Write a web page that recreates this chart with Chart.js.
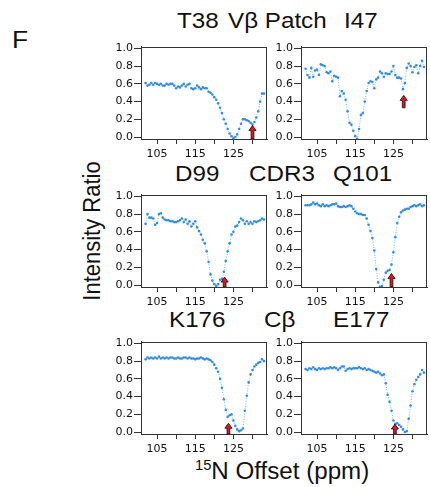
<!DOCTYPE html>
<html>
<head>
<meta charset="utf-8">
<script src="https://cdn.jsdelivr.net/npm/chart.js@4"></script>
<style>
body { margin: 0; background: #fff; }
#fig { position: relative; width: 430px; height: 487px; overflow: hidden; font-family: "Liberation Sans", Arial, sans-serif; color: #111; }
.lbl { position: absolute; font-size: 22px; line-height: 22px; white-space: nowrap; transform-origin: 0 0; transform: scaleX(1.1); }
.ytitle { position: absolute; left: 92px; top: 231px; font-size: 22px; line-height: 22px; white-space: nowrap; transform: translate(-50%, -50%) rotate(-90deg) scale(1, 1.1); }
canvas { position: absolute; }
</style>
</head>
<body>
<div id="fig">
  <div class="lbl" style="left:12px;top:29px;font-size:24px">F</div>

  <div class="lbl" style="left:177px;top:10px">T38</div>
  <div class="lbl" style="left:228px;top:10px">Vβ Patch</div>
  <div class="lbl" style="left:344px;top:10px">I47</div>

  <div class="lbl" style="left:175px;top:163px">D99</div>
  <div class="lbl" style="left:249px;top:163px">CDR3</div>
  <div class="lbl" style="left:333px;top:163px">Q101</div>

  <div class="lbl" style="left:169px;top:309px">K176</div>
  <div class="lbl" style="left:264px;top:309px">Cβ</div>
  <div class="lbl" style="left:333px;top:309px">E177</div>

  <div class="ytitle">Intensity Ratio</div>
  <div class="lbl" style="left:195px;top:460px;font-size:23px;transform:scaleX(1.05)"><span style="font-size:14px;position:relative;top:-9px">15</span>N Offset (ppm)</div>

  <canvas id="c1" width="168" height="124"></canvas>
  <canvas id="c2" width="168" height="124"></canvas>
  <canvas id="c3" width="168" height="124"></canvas>
  <canvas id="c4" width="168" height="124"></canvas>
  <canvas id="c5" width="168" height="124"></canvas>
  <canvas id="c6" width="168" height="124"></canvas>
</div>

<script>
// 15N offsets (ppm) of the CEST profiles
const offsets = [
  102, 102.5, 103, 103.5, 104, 104.5, 105, 105.5, 106, 106.5,
  107, 107.5, 108, 108.5, 109, 109.5, 110, 110.5, 111, 111.5,
  112, 112.5, 113, 113.5, 114, 114.5, 115, 115.5, 116, 116.5,
  117, 117.5, 118, 118.5, 119, 119.5, 120, 120.5, 121, 121.5,
  122, 122.5, 123, 123.5, 124, 124.5, 125, 125.5, 126, 126.5,
  127, 127.5, 128, 128.5, 129, 129.5, 130, 130.5, 131, 131.5,
  132, 132.5, 133
];

// intensity ratios
const t38 = [
  0.61, 0.58, 0.59, 0.61, 0.59, 0.61, 0.60, 0.59, 0.60, 0.58,
  0.58, 0.60, 0.59, 0.60, 0.60, 0.58, 0.55, 0.57, 0.56, 0.58,
  0.60, 0.57, 0.59, 0.60, 0.55, 0.54, 0.55, 0.58, 0.56, 0.54,
  0.56, 0.55, 0.55, 0.51, 0.50, 0.48, 0.45, 0.42, 0.38, 0.33,
  0.27, 0.20, 0.15, 0.09, 0.04, 0.01, -0.01, 0.00, 0.03, 0.09,
  0.15, 0.20, 0.20, 0.19, 0.18, 0.16, 0.14, 0.17, 0.22, 0.29,
  0.40, 0.49, 0.49
];
const i47 = [
  0.77, 0.70, 0.67, 0.78, 0.68, 0.75, 0.76, 0.70, 0.82, 0.81,
  0.80, 0.73, 0.72, 0.74, 0.63, 0.69, 0.68, 0.67, 0.46, 0.52,
  0.49, 0.42, 0.29, 0.16, 0.14, 0.07, 0.01, -0.02, 0.09, 0.25,
  0.27, 0.40, 0.52, 0.61, 0.63, 0.62, 0.55, 0.65, 0.67, 0.74,
  0.72, 0.68, 0.72, 0.71, 0.71, 0.74, 0.80, 0.70, 0.67, 0.67,
  0.66, 0.54, 0.61, 0.78, 0.83, 0.80, 0.73, 0.79, 0.81, 0.72,
  0.80, 0.86, 0.79
];
const d99 = [
  0.69, 0.80, 0.76, 0.76, 0.75, 0.68, 0.70, 0.80, 0.81, 0.76,
  0.74, 0.73, 0.73, 0.72, 0.72, 0.71, 0.71, 0.72, 0.73, 0.75,
  0.71, 0.74, 0.69, 0.72, 0.66, 0.69, 0.72, 0.65, 0.61, 0.57,
  0.51, 0.47, 0.38, 0.26, 0.12, 0.05, 0.01, -0.01, 0.01, 0.06,
  0.07, 0.15, 0.27, 0.38, 0.47, 0.57, 0.60, 0.66, 0.67, 0.71,
  0.75, 0.73, 0.69, 0.72, 0.69, 0.71, 0.69, 0.72, 0.71, 0.72,
  0.73, 0.75, 0.74
];
const q101 = [
  0.90, 0.90, 0.90, 0.91, 0.93, 0.91, 0.92, 0.90, 0.89, 0.91,
  0.89, 0.90, 0.89, 0.90, 0.91, 0.91, 0.92, 0.89, 0.88, 0.88,
  0.89, 0.88, 0.89, 0.90, 0.89, 0.86, 0.83, 0.81, 0.80, 0.80,
  0.79, 0.79, 0.75, 0.68, 0.61, 0.53, 0.39, 0.18, 0.03, -0.02,
  -0.01, 0.06, 0.14, 0.16, 0.17, 0.23, 0.37, 0.54, 0.70, 0.77,
  0.82, 0.84, 0.85, 0.86, 0.86, 0.88, 0.89, 0.90, 0.89, 0.90,
  0.91, 0.89, 0.90
];
const k176 = [
  0.82, 0.84, 0.83, 0.84, 0.83, 0.84, 0.83, 0.85, 0.83, 0.84,
  0.83, 0.84, 0.83, 0.84, 0.84, 0.83, 0.83, 0.84, 0.83, 0.83,
  0.84, 0.84, 0.83, 0.84, 0.83, 0.83, 0.82, 0.83, 0.83, 0.84,
  0.83, 0.82, 0.83, 0.82, 0.81, 0.79, 0.76, 0.72, 0.68, 0.60,
  0.50, 0.37, 0.25, 0.17, 0.19, 0.20, 0.13, 0.07, 0.03, 0.01,
  0.02, 0.04, 0.24, 0.41, 0.56, 0.65, 0.70, 0.74, 0.76, 0.78,
  0.79, 0.82, 0.80
];
const e177 = [
  0.71, 0.70, 0.72, 0.71, 0.73, 0.71, 0.70, 0.72, 0.71, 0.72,
  0.71, 0.72, 0.72, 0.73, 0.72, 0.73, 0.72, 0.70, 0.72, 0.74,
  0.74, 0.69, 0.71, 0.72, 0.71, 0.72, 0.72, 0.72, 0.73, 0.72,
  0.71, 0.72, 0.70, 0.71, 0.70, 0.69, 0.68, 0.67, 0.68, 0.66,
  0.64, 0.65, 0.55, 0.42, 0.34, 0.24, 0.13, 0.09, 0.10, 0.08,
  0.06, 0.03, 0.00, 0.01, 0.15, 0.30, 0.46, 0.54, 0.59, 0.62,
  0.65, 0.70, 0.67
];

// red arrows: offset, tip and base (intensity ratio)
const arrowAt   = [130, 127.7, 122.7, 124.5, 123.7, 125.4];
const arrowTip  = [0.13, 0.47, 0.09, 0.13, 0.10, 0.09];
const arrowBase = [-0.03, 0.33, -0.03, -0.03, -0.03, -0.03];

const xTicks = [105, 110, 115, 120, 125, 130];
const xLabels = [105, 115, 125];
const yTicks = [0, 0.2, 0.4, 0.6, 0.8, 1.0];

const series = [t38, i47, d99, q101, k176, e177];

// layout of the plot boxes
const colLeft = [141, 301];
const rowTop = [42, 190, 337];
const yAxisW = 38, xAxisH = 24, padTop = 3, padRight = 3;

const blue = '#2b8ef5';
const axisColor = '#333';

// frame round the plot area
const boxPlugin = {
  id: 'box',
  afterDraw(chart) {
    const a = chart.chartArea, ctx = chart.ctx;
    ctx.save();
    ctx.strokeStyle = axisColor;
    ctx.lineWidth = 1;
    ctx.strokeRect(Math.round(a.left) + 0.5, Math.round(a.top) + 0.5,
                   Math.round(a.right - a.left) - 1, Math.round(a.bottom - a.top));
    ctx.restore();
  }
};

// the red up arrow marking a residue position
const arrowPlugin = {
  id: 'arrow',
  afterDatasetsDraw(chart, args, opts) {
    const ctx = chart.ctx, x = chart.scales.x, y = chart.scales.y;
    const px = x.getPixelForValue(opts.at);
    const top = y.getPixelForValue(opts.tip);
    const bot = Math.min(y.getPixelForValue(opts.base), chart.chartArea.bottom);
    ctx.save();
    ctx.beginPath();
    ctx.moveTo(px, top);
    ctx.lineTo(px + 3.6, top + 5);
    ctx.lineTo(px + 1.4, top + 5);
    ctx.lineTo(px + 1.4, bot);
    ctx.lineTo(px - 1.4, bot);
    ctx.lineTo(px - 1.4, top + 5);
    ctx.lineTo(px - 3.6, top + 5);
    ctx.closePath();
    ctx.fillStyle = '#e8101a';
    ctx.fill();
    ctx.strokeStyle = '#111';
    ctx.lineWidth = 0.8;
    ctx.stroke();
    ctx.restore();
  }
};

const tickFont = { family: 'DejaVu Sans', size: 11 };

series.forEach((vals, i) => {
  const canvas = document.getElementById('c' + (i + 1));
  canvas.style.left = (colLeft[i % 2] - yAxisW) + 'px';
  canvas.style.top = (rowTop[Math.floor(i / 2)] - padTop) + 'px';

  new Chart(canvas, {
    type: 'scatter',
    data: {
      datasets: [{
        data: vals.map((v, k) => ({ x: offsets[k], y: v })),
        showLine: true,
        borderColor: 'rgba(43,142,245,0.75)',
        borderWidth: 0.9,
        borderDash: [1, 1.6],
        pointRadius: 1.3,
        pointBorderWidth: 0,
        pointBackgroundColor: blue
      }]
    },
    options: {
      responsive: false,
      animation: false,
      devicePixelRatio: 1,
      layout: { padding: { top: padTop, right: padRight, left: 0, bottom: 0 } },
      plugins: {
        legend: { display: false },
        tooltip: { enabled: false },
        arrow: { at: arrowAt[i], tip: arrowTip[i], base: arrowBase[i] }
      },
      scales: {
        x: {
          type: 'linear',
          min: 100.8,
          max: 133.8,
          afterFit: s => { s.height = xAxisH; },
          afterBuildTicks: s => { s.ticks = xTicks.map(v => ({ value: v })); },
          grid: { drawOnChartArea: false, tickLength: 5, color: axisColor },
          border: { color: axisColor },
          ticks: {
            autoSkip: false,
            maxRotation: 0,
            padding: 4,
            color: '#111',
            font: tickFont,
            callback: v => xLabels.includes(v) ? String(v) : ''
          }
        },
        y: {
          min: -0.022,
          max: 1.02,
          afterFit: s => { s.width = yAxisW; },
          afterBuildTicks: s => { s.ticks = yTicks.map(v => ({ value: v })); },
          grid: { drawOnChartArea: false, tickLength: 7, color: axisColor },
          border: { color: axisColor },
          ticks: {
            padding: 1,
            color: '#111',
            font: tickFont,
            callback: v => v.toFixed(1)
          }
        }
      }
    },
    plugins: [boxPlugin, arrowPlugin]
  });
});
</script>
</body>
</html>
